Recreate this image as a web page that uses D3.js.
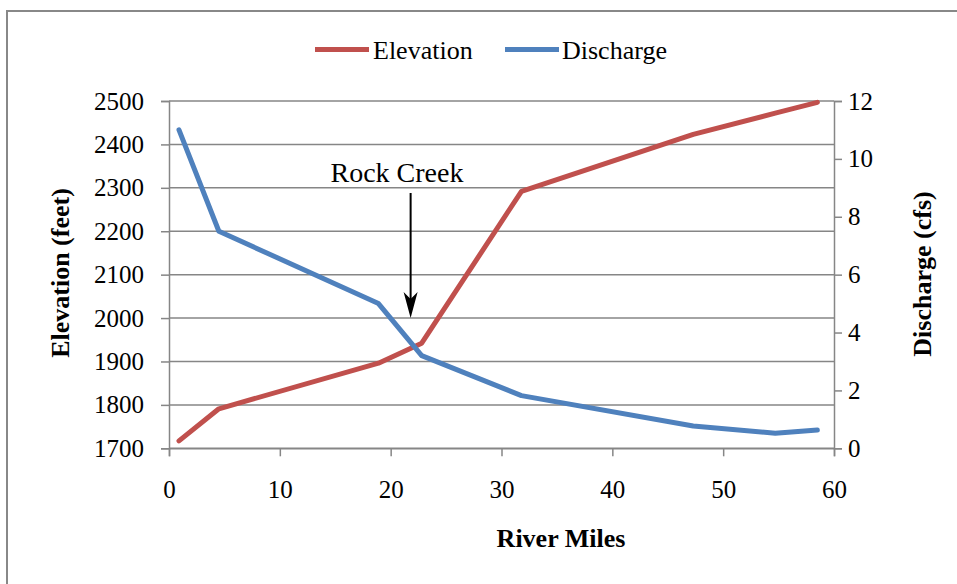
<!DOCTYPE html>
<html>
<head>
<meta charset="utf-8">
<script src="https://cdn.jsdelivr.net/npm/d3@7"></script>
<style>
  html, body { margin: 0; padding: 0; background: #fff; }
  svg { display: block; font-family: "Liberation Serif", "Times New Roman", serif; }
</style>
</head>
<body>
<svg id="chart" width="957" height="584"></svg>
<script>
// ---- data ----
const riverMiles = [0.9, 4.5, 18.9, 22.8, 31.8, 47.3, 54.7, 58.5];
const elevation  = [1717, 1791, 1896, 1942, 2292, 2423, 2472, 2497];
const discharge  = [11.0, 7.5, 5.0, 3.2, 1.82, 0.77, 0.52, 0.63];
const xTicks = [0, 10, 20, 30, 40, 50, 60];
const elevTicks = [1700, 1800, 1900, 2000, 2100, 2200, 2300, 2400, 2500];
const dischTicks = [0, 2, 4, 6, 8, 10, 12];
const seriesNames = ["Elevation", "Discharge"];
const annotation = { label: "Rock Creek", mile: 21.8 };

(function () {
const svg = d3.select("#chart");
const pLeft = 169, pRight = 834, pTop = 101, pBottom = 448.3;
const red = "#C0504D", blue = "#4F81BD", grid = "#868686";

svg.append("rect").attr("x", 7).attr("y", 11).attr("width", 1000).attr("height", 700)
  .attr("fill", "#fff").attr("stroke", "#888").attr("stroke-width", 2);

const x = d3.scaleLinear().domain([0, 60]).range([pLeft, pRight]);
const yL = d3.scaleLinear().domain([1700, 2500]).range([pBottom, pTop]);
const yR = d3.scaleLinear().domain([0, 12]).range([pBottom, pTop]);
const fmt = d3.format("d");

svg.append("g").selectAll("line").data(elevTicks).join("line")
  .attr("x1", pLeft).attr("x2", pRight)
  .attr("y1", d => yL(d)).attr("y2", d => yL(d))
  .attr("stroke", grid).attr("stroke-width", 1.5);

const gL = svg.append("g").attr("transform", `translate(${pLeft},0)`)
  .call(d3.axisLeft(yL).tickValues(elevTicks).tickFormat(fmt).tickSize(8).tickPadding(17));
const gR = svg.append("g").attr("transform", `translate(${pRight},0)`)
  .call(d3.axisRight(yR).tickValues(dischTicks).tickFormat(fmt).tickSize(8).tickPadding(6));
const gB = svg.append("g").attr("transform", `translate(0,${pBottom})`)
  .call(d3.axisBottom(x).tickValues(xTicks).tickFormat(fmt).tickSize(8).tickPadding(24));

[gL, gR, gB].forEach(g => {
  g.select(".domain").attr("stroke", grid).attr("stroke-width", 1.5);
  g.selectAll(".tick line").attr("stroke", grid).attr("stroke-width", 1.5);
  g.selectAll(".tick text").attr("fill", "#000").attr("font-size", 25)
    .attr("font-family", "Liberation Serif, Times New Roman, serif");
});

const elevLine = d3.line().x((d, i) => x(riverMiles[i])).y(d => yL(d));
const discLine = d3.line().x((d, i) => x(riverMiles[i])).y(d => yR(d));
svg.append("path").datum(elevation).attr("d", elevLine)
  .attr("fill", "none").attr("stroke", red).attr("stroke-width", 5)
  .attr("stroke-linejoin", "round").attr("stroke-linecap", "round");
svg.append("path").datum(discharge).attr("d", discLine)
  .attr("fill", "none").attr("stroke", blue).attr("stroke-width", 5)
  .attr("stroke-linejoin", "round").attr("stroke-linecap", "round");

// annotation
const ax = x(annotation.mile);
svg.append("text").attr("x", 397).attr("y", 181.5).attr("text-anchor", "middle")
  .attr("font-size", 28).text(annotation.label);
svg.append("line").attr("x1", ax).attr("x2", ax).attr("y1", 193).attr("y2", 300)
  .attr("stroke", "#000").attr("stroke-width", 2);
svg.append("path")
  .attr("d", `M${ax},318 L${ax - 7},292 L${ax},299 L${ax + 7},292 Z`)
  .attr("fill", "#000");

// legend
const legend = [
  { name: seriesNames[0], color: red, x0: 315, tx: 373 },
  { name: seriesNames[1], color: blue, x0: 505, tx: 562 }
];
legend.forEach(l => {
  svg.append("line").attr("x1", l.x0).attr("x2", l.x0 + 54).attr("y1", 49.5).attr("y2", 49.5)
    .attr("stroke", l.color).attr("stroke-width", 5);
  svg.append("text").attr("x", l.tx).attr("y", 59).attr("font-size", 26).text(l.name);
});

// axis titles
svg.append("text").attr("x", 561).attr("y", 547).attr("text-anchor", "middle")
  .attr("font-size", 26).attr("font-weight", "bold").text("River Miles");
svg.append("text").attr("transform", "translate(69,273) rotate(-90)").attr("text-anchor", "middle")
  .attr("font-size", 26).attr("font-weight", "bold").text("Elevation (feet)");
svg.append("text").attr("transform", "translate(931,274) rotate(-90)").attr("text-anchor", "middle")
  .attr("font-size", 26).attr("font-weight", "bold").text("Discharge (cfs)");
})();
</script>
</body>
</html>
